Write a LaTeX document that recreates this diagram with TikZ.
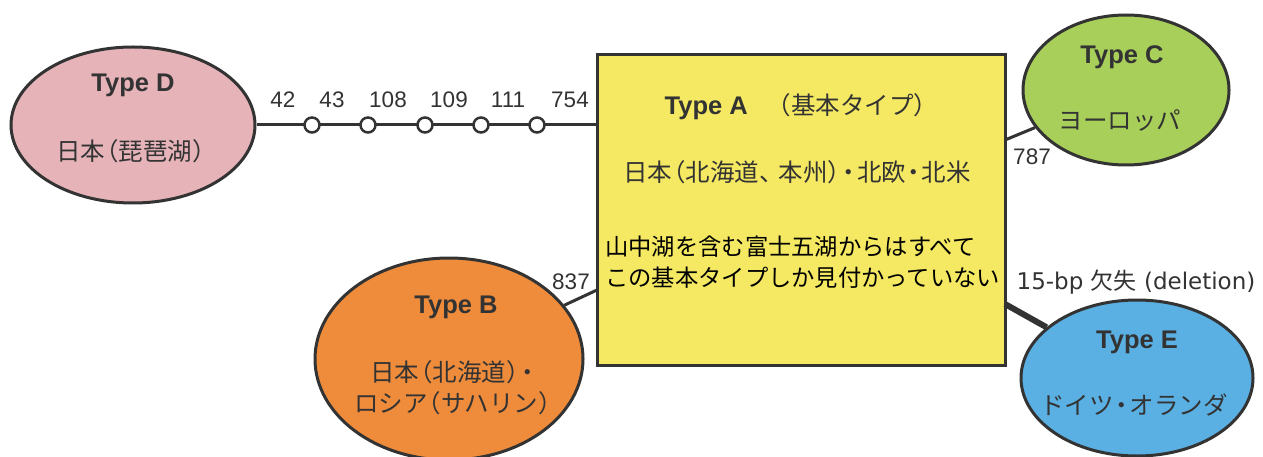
\documentclass[tikz,border=0pt]{standalone}
\usepackage{fontspec}
\setmainfont{Liberation Sans}
\newfontfamily\jp{Noto Sans CJK JP}
\newfontfamily\dvs{DejaVu Sans}
\usetikzlibrary{shapes.geometric}
\newcommand{\lp}{\kern-0.45em（}
\newcommand{\rp}{）\kern-0.45em}
\newcommand{\nd}{\kern-0.18em・\kern-0.18em}
\definecolor{ink}{HTML}{333333}
\definecolor{pinkD}{HTML}{E5B3B8}
\definecolor{greenC}{HTML}{A8CF5A}
\definecolor{blueE}{HTML}{5AB0E2}
\definecolor{orangeB}{HTML}{EF8C3C}
\definecolor{yellowA}{HTML}{F5E963}
\tikzset{
  typeell/.style={ellipse, draw=ink, line width=3pt, inner sep=0pt},
  conn/.style={draw=ink, line width=3pt},
  dot/.style={circle, draw=ink, fill=white, line width=2.5pt, minimum size=15pt, inner sep=0pt},
  ttl/.style={text=ink, font=\fontsize{25.5}{30}\selectfont\bfseries},
  jtxt/.style={text=ink, font=\fontsize{24.5}{31}\selectfont\jp, align=center},
  num/.style={text=ink, font=\fontsize{22.5}{26}\selectfont},
}
\begin{document}
\begin{tikzpicture}[x=1pt,y=-1pt]
\useasboundingbox (0,0) rectangle (1263,457);
\clip (0,0) rectangle (1263,457);
% Type A box
\node[draw=ink, line width=3pt, fill=yellowA, minimum width=408pt, minimum height=310pt, inner sep=0pt] (A) at (801,210) {};
\node[anchor=center, inner sep=0pt] (At) at (796,107) {\textcolor{ink}{\fontsize{25.5}{30}\selectfont\bfseries Type A}\hspace{30pt}{\jp\fontsize{24.5}{30}\selectfont\textcolor{ink}{\lp 基本タイプ\rp}}};
\node[jtxt] (Ap) at (797,172) {日本\lp 北海道、\kern-0.2em 本州\rp\nd 北欧\nd 北米};
\node[jtxt, text=black, font=\fontsize{23.3}{31}\selectfont\jp, align=left, anchor=west, inner sep=0pt] (An) at (605,262) {山中湖を含む富士五湖からはすべて\\この基本タイプしか見付かっていない};
% Type D
\node[typeell, fill=pinkD, minimum width=244pt, minimum height=156pt] (D) at (133,125) {};
\node[ttl] (Dt) at (133,85) {Type D};
\node[jtxt] (Dp) at (131,151) {日本\lp 琵琶湖\rp};
% Type C
\node[typeell, fill=greenC, minimum width=206pt, minimum height=150pt] (C) at (1126,90) {};
\node[ttl] (Ct) at (1122,57) {Type C};
\node[jtxt] (Cp) at (1120,120) {ヨーロッパ};
% Type B
\node[typeell, fill=orangeB, minimum width=268pt, minimum height=202pt] (B) at (449,359) {};
\node[ttl] (Bt) at (456,307) {Type B};
\node[jtxt] (Bp) at (453,388) {日本\lp 北海道\rp\nd\\ロシア\lp サハリン\rp};
% Type E
\node[typeell, fill=blueE, minimum width=232pt, minimum height=156pt] (E) at (1137,378) {};
\node[ttl] (Et) at (1137,342) {Type E};
\node[jtxt] (Ep) at (1134,405) {ドイツ\nd オランダ};
% D -- A with mutation dots
\coordinate (da) at (A.west |- D.east);
\draw[conn] (D.east) -- (da);
\foreach \x/\n in {312/1,368/2,425/3,481/4,537/5}{
  \node[dot] (c\n) at (\x,125) {};
}
\foreach \x/\t in {283/42,332/43,388/108,449/109,508/111,570/754}{
  \node[num] (n\t) at (\x,100) {\t};
}
% A -- C
\coordinate (ac) at (1005,140);
\draw[conn] (ac) -- (C);
\node[num] (l787) at (1032,157) {787};
% A -- B
\coordinate (ab) at (597,290);
\draw[conn] (ab) -- (B);
\node[num] (l837) at (571,282) {837};
% A -- E
\coordinate (ae) at (1005,304);
\draw[draw=ink, line width=6pt] (ae) -- (E);
\node[num, font=\fontsize{23}{26}\selectfont\dvs] (ldel) at (1136,282) {15-bp {\jp 欠失} (deletion)};
\end{tikzpicture}
\end{document}
